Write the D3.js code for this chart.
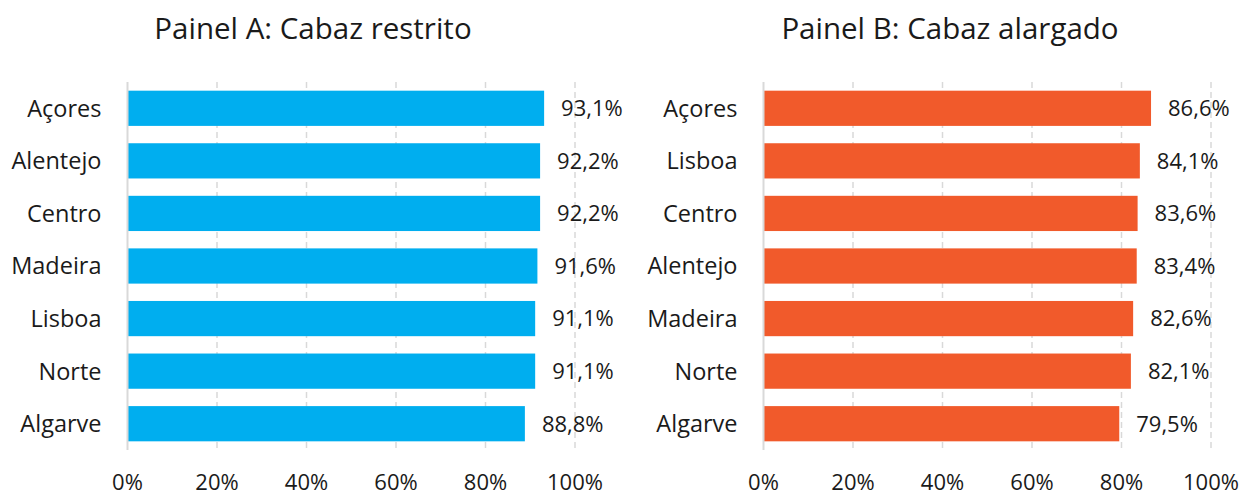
<!DOCTYPE html>
<html lang="pt">
<head>
    <meta charset="UTF-8">
    <title>Cabaz restrito / alargado</title>
    <script src="https://d3js.org/d3.v7.min.js"></script>
    <style>
        body {
            margin: 0;
            background: #fff;
        }
        svg text {
            font-family: 'Open Sans', 'Noto Sans', sans-serif;
            fill: #1a1a1a;
        }
        .title {
            font-size: 29.5px;
            text-anchor: middle;
        }
        .cat-label {
            font-size: 23.5px;
            text-anchor: end;
        }
        .value-label {
            font-size: 22px;
        }
        .tick-label {
            font-size: 22px;
            text-anchor: middle;
        }
        .grid {
            stroke: #d9d9d9;
            stroke-width: 1.5px;
            stroke-dasharray: 6 4;
        }
        .zero-line {
            stroke: #d9d9d9;
            stroke-width: 2px;
        }
    </style>
</head>
<body>
    <div id="chart"></div>
    <script>
        // Painel A
        const regionsA = ["Açores", "Alentejo", "Centro", "Madeira", "Lisboa", "Norte", "Algarve"];
        const valuesA = [93.1, 92.2, 92.2, 91.6, 91.1, 91.1, 88.8];
        // Painel B
        const regionsB = ["Açores", "Lisboa", "Centro", "Alentejo", "Madeira", "Norte", "Algarve"];
        const valuesB = [86.6, 84.1, 83.6, 83.4, 82.6, 82.1, 79.5];

        const ticks = [0, 20, 40, 60, 80, 100];
        const tickLabels = ["0%", "20%", "40%", "60%", "80%", "100%"];

        const width = 1243;
        const height = 496;

        const svg = d3.select("#chart")
            .append("svg")
            .attr("width", width)
            .attr("height", height);

        function fmt(v) {
            return v.toFixed(1).replace(".", ",") + "%";
        }

        function drawPanel(opts) {
            const g = svg.append("g");

            const x = d3.scaleLinear()
                .domain([0, 100])
                .range([opts.x0, opts.x0 + 447.5]);

            const y = d3.scaleBand()
                .domain(opts.regions)
                .range([82, 450])
                .paddingInner(0.33)
                .paddingOuter(0.165);

            // Title
            g.append("text")
                .attr("class", "title")
                .attr("x", opts.titleX)
                .attr("y", 39)
                .text(opts.title);

            // Gridlines (dashed), zero line solid
            g.selectAll(".grid")
                .data(ticks.slice(1))
                .enter()
                .append("line")
                .attr("class", "grid")
                .attr("x1", d => x(d))
                .attr("x2", d => x(d))
                .attr("y1", 82)
                .attr("y2", 450);

            // Bars
            g.selectAll(".bar")
                .data(opts.values)
                .enter()
                .append("rect")
                .attr("class", "bar")
                .attr("x", x(0))
                .attr("y", (d, i) => y(opts.regions[i]))
                .attr("width", d => x(d) - x(0))
                .attr("height", y.bandwidth())
                .attr("fill", opts.color);

            g.append("line")
                .attr("class", "zero-line")
                .attr("x1", x(0))
                .attr("x2", x(0))
                .attr("y1", 82)
                .attr("y2", 450);

            // Value labels
            g.selectAll(".value-label")
                .data(opts.values)
                .enter()
                .append("text")
                .attr("class", "value-label")
                .attr("x", d => x(d) + 17)
                .attr("y", (d, i) => y(opts.regions[i]) + y.bandwidth() / 2)
                .attr("dy", "0.36em")
                .text(d => fmt(d));

            // Category labels
            g.selectAll(".cat-label")
                .data(opts.regions)
                .enter()
                .append("text")
                .attr("class", "cat-label")
                .attr("x", x(0) - 26)
                .attr("y", d => y(d) + y.bandwidth() / 2)
                .attr("dy", "0.36em")
                .text(d => d);

            // Axis tick labels
            g.selectAll(".tick-label")
                .data(ticks)
                .enter()
                .append("text")
                .attr("class", "tick-label")
                .attr("x", d => x(d))
                .attr("y", 490)
                .text((d, i) => tickLabels[i]);
        }

        drawPanel({
            title: "Painel A: Cabaz restrito",
            titleX: 313,
            x0: 127.5,
            regions: regionsA,
            values: valuesA,
            color: "#00aeef"
        });

        drawPanel({
            title: "Painel B: Cabaz alargado",
            titleX: 950,
            x0: 763.5,
            regions: regionsB,
            values: valuesB,
            color: "#f15a2b"
        });
    </script>
</body>
</html>
